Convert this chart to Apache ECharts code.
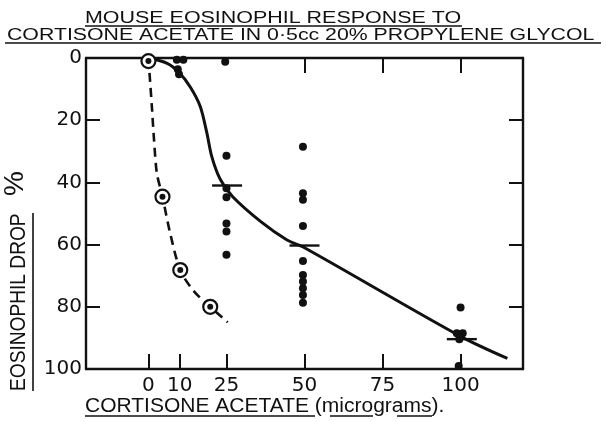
<!DOCTYPE html>
<html>
<head>
<meta charset="utf-8">
<script src="https://cdn.jsdelivr.net/npm/echarts@6/dist/echarts.min.js"></script>
<style>
  html, body { margin: 0; padding: 0; background: #fff; }
  #chart { width: 606px; height: 422px; }
</style>
</head>
<body>
<div id="chart"></div>
<script>
// tick positions of the dose axis (micrograms) and the drop axis (%)
const xTicks = [0, 10, 25, 50, 75, 100]
const xTopTicks = [50, 75, 100]
const yTicks = [20, 40, 60, 80]

// solid curve: cortisone acetate response
const solidCurve = [
  [0, 0], [6, 1.7], [10, 4.8], [13.5, 9.5], [16.6, 15.6], [18.7, 24], [20.3, 31.7],
  [23, 39], [27, 44.6], [36, 52.6], [44.4, 58.5], [50, 61],
  [100, 89.5], [115, 96.6]
]
// dashed curve through the circled points
const dashedCurve = [
  [0, 0], [1.1, 15.6], [1.8, 26.4], [2.7, 37], [4.5, 44.6], [7, 56.5],
  [10.2, 68.2], [14.4, 74.8], [19.8, 80], [25.4, 85]
]
const circledPoints = [[0, 1], [4.5, 44.6], [10.2, 68.2], [19.8, 80]]

// individual mice
const dots = [
  [9.1, 0.6], [11.2, 0.6], [9.4, 3.6], [9.8, 5.2],
  [24.6, 1.2], [25, 31.4], [25, 41.9], [25, 44.8], [25, 53.2], [25, 55.8], [25, 63.3],
  [49.5, 28.5], [49.5, 43.5], [49.5, 45.6], [49.5, 54], [49.5, 65.3], [49.5, 69.8],
  [49.5, 71.9], [49.5, 74], [49.5, 76.2], [49.5, 78.7],
  [100, 80.2], [98.8, 88.5], [100.7, 88.5], [99.6, 90.4], [99.4, 99]
]
// group means (short horizontal bars)
const means = [[25.2, 41], [50, 60.3], [100.4, 90.4]]

const ink = '#111'
const font = 'Liberation Sans'

const chart = echarts.init(document.getElementById('chart'))

const frameLine = { show: true, onZero: false, lineStyle: { color: ink, width: 2.4 } }

const option = {
  backgroundColor: '#fff',
  animation: false,
  grid: { left: 86, right: 83, top: 58, bottom: 53 },
  xAxis: [
    {
      type: 'value', min: -20, max: 120, position: 'bottom',
      axisLine: frameLine,
      splitLine: { show: false },
      axisTick: { inside: true, length: 15, customValues: xTicks, lineStyle: { color: ink, width: 2 } },
      axisLabel: { customValues: xTicks, margin: 7, fontSize: 20, fontFamily: 'DejaVu Sans', color: ink }
    },
    {
      type: 'value', min: -20, max: 120, position: 'top',
      axisLine: frameLine,
      splitLine: { show: false },
      axisTick: { inside: true, length: 15, customValues: xTopTicks, lineStyle: { color: ink, width: 2 } },
      axisLabel: { show: false }
    }
  ],
  yAxis: [
    {
      type: 'value', inverse: true, min: 0, max: 100, interval: 20, position: 'left',
      axisLine: frameLine,
      splitLine: { show: false },
      axisTick: { inside: true, length: 14, customValues: yTicks, lineStyle: { color: ink, width: 2 } },
      axisLabel: { margin: 4, fontSize: 20, fontFamily: 'DejaVu Sans', color: ink }
    },
    {
      type: 'value', inverse: true, min: 0, max: 100, interval: 20, position: 'right',
      axisLine: frameLine,
      splitLine: { show: false },
      axisTick: { inside: true, length: 14, customValues: yTicks, lineStyle: { color: ink, width: 2 } },
      axisLabel: { show: false }
    }
  ],
  series: [
    {
      type: 'line', data: solidCurve, smooth: 0.3, symbol: 'none',
      lineStyle: { color: ink, width: 3 }, z: 2
    },
    {
      type: 'line', data: dashedCurve, smooth: 0.3, symbol: 'none',
      lineStyle: { color: ink, width: 2.6, type: [9, 6] }, z: 2
    },
    {
      type: 'scatter', data: dots, symbolSize: 8, clip: false,
      itemStyle: { color: ink, opacity: 1 }, z: 3
    },
    {
      type: 'scatter', data: circledPoints, symbolSize: 14, clip: false,
      itemStyle: { color: '#fff', borderColor: ink, borderWidth: 2.2, opacity: 1 }, z: 4
    },
    {
      type: 'scatter', data: circledPoints, symbolSize: 6, clip: false,
      itemStyle: { color: ink, opacity: 1 }, z: 5
    },
    {
      type: 'scatter', data: means, symbol: 'rect', symbolSize: [30, 2.4],
      itemStyle: { color: ink, opacity: 1 }, z: 3
    }
  ],
  graphic: [
    {
      type: 'text', x: 85, y: 19, scaleX: 1.34,
      style: { text: 'MOUSE EOSINOPHIL RESPONSE TO', font: '16px "' + font + '"', fill: ink, align: 'left', verticalAlign: 'middle' }
    },
    {
      type: 'text', x: 7, y: 36, scaleX: 1.33,
      style: { text: 'CORTISONE ACETATE IN 0·5cc 20% PROPYLENE GLYCOL', font: '16px "' + font + '"', fill: ink, align: 'left', verticalAlign: 'middle' }
    },
    { type: 'line', shape: { x1: 85, y1: 26, x2: 462, y2: 26 }, style: { stroke: ink, lineWidth: 1.6 } },
    { type: 'line', shape: { x1: 5, y1: 43, x2: 601, y2: 43 }, style: { stroke: ink, lineWidth: 1.6 } },
    {
      type: 'text', x: 19, y: 391, rotation: Math.PI / 2, scaleX: 0.87,
      style: { text: 'EOSINOPHIL DROP', font: '22px "' + font + '"', fill: ink, align: 'left', verticalAlign: 'middle' }
    },
    {
      type: 'text', x: 15, y: 196, rotation: Math.PI / 2,
      style: { text: '%', font: '28px "' + font + '"', fill: ink, align: 'left', verticalAlign: 'middle' }
    },
    { type: 'line', shape: { x1: 33, y1: 213, x2: 33, y2: 391 }, style: { stroke: ink, lineWidth: 1.6 } },
    {
      type: 'text', x: 85, y: 406, scaleX: 1.05,
      style: { text: 'CORTISONE ACETATE (micrograms).', font: '20px "' + font + '"', fill: ink, align: 'left', verticalAlign: 'middle' }
    },
    { type: 'line', shape: { x1: 85, y1: 416, x2: 315, y2: 416 }, style: { stroke: ink, lineWidth: 1.6 } },
    { type: 'line', shape: { x1: 330, y1: 416, x2: 373, y2: 416 }, style: { stroke: ink, lineWidth: 1.6 } },
    { type: 'line', shape: { x1: 397, y1: 416, x2: 432, y2: 416 }, style: { stroke: ink, lineWidth: 1.6 } }
  ]
}

chart.setOption(option)
</script>
</body>
</html>
